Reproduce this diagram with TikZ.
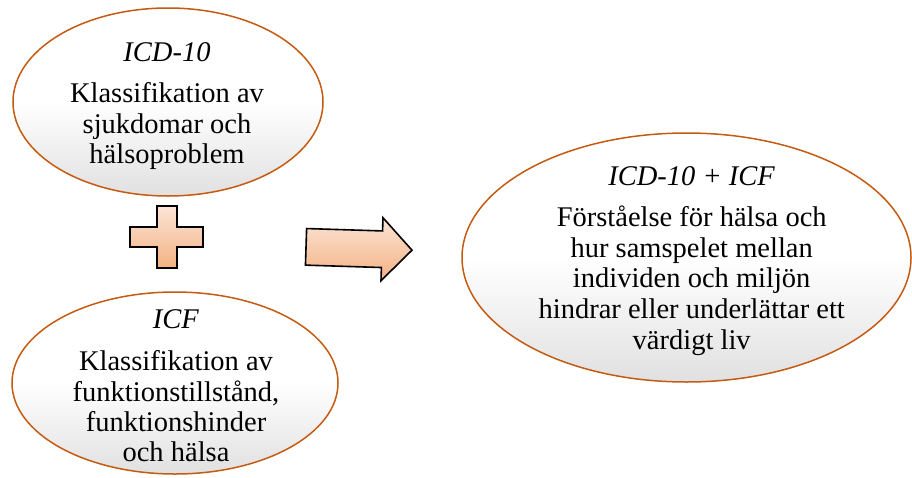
\documentclass[tikz,border=0pt]{standalone}
\usepackage{fontspec}
\setmainfont{Liberation Serif}
\usetikzlibrary{shapes.geometric}
\definecolor{ellline}{HTML}{C55A11}
\definecolor{peachtop}{HTML}{FBE5D6}
\definecolor{peachbot}{HTML}{F4B183}
\begin{document}
\begin{tikzpicture}[x=1pt,y=-1pt,
  bubble/.style={ellipse, draw=ellline, line width=1.5pt, top color=white, bottom color=black!12, middle color=white, inner sep=0pt},
  bubbletext/.style={align=center, font=\fontsize{28.5}{30.4}\selectfont, inner sep=0pt},
  signshape/.style={draw=black, line width=1.6pt, top color=peachtop, bottom color=peachbot, line join=miter}]
\useasboundingbox (0,0) rectangle (912,477);
% ellipses
\node[bubble, minimum width=310pt, minimum height=188pt] (icd) at (168,102) {};
\node[bubble, minimum width=326pt, minimum height=182pt] (icf) at (175,383) {};
\node[bubble, minimum width=449pt, minimum height=249pt] (both) at (686.5,257.5) {};
% texts
\node[bubbletext] (icdtxt) at (167,106) {\textit{ICD-10}\\[11.3pt] Klassifikation av\\ sjukdomar och\\ hälsoproblem};
\node[bubbletext] (icftxt) at (176,386) {\textit{ICF}\\[11.6pt] Klassifikation av\\ funktionstillstånd,\\ funktionshinder\\ och hälsa};
\node[bubbletext, font=\fontsize{28.5}{30.8}\selectfont] (bothtxt) at (691.7,261) {\textit{ICD-10 + ICF}\\[10pt] Förståelse för hälsa och\\ hur samspelet mellan\\ individen och miljön\\ hindrar eller underlättar ett\\ värdigt liv};
% plus sign
\draw[signshape] (157,206) -- (177,206) -- (177,227) -- (203,227) -- (203,247) -- (177,247) -- (177,268) -- (157,268) -- (157,247) -- (130,247) -- (130,227) -- (157,227) -- cycle;
% block arrow
\begin{scope}[rotate around={-1.8:(359,248.5)}]
\draw[signshape] (306,230.2) -- (382,230.2) -- (382,217) -- (412,248.5) -- (382,280) -- (382,266.8) -- (306,266.8) -- cycle;
\end{scope}
\end{tikzpicture}
\end{document}
